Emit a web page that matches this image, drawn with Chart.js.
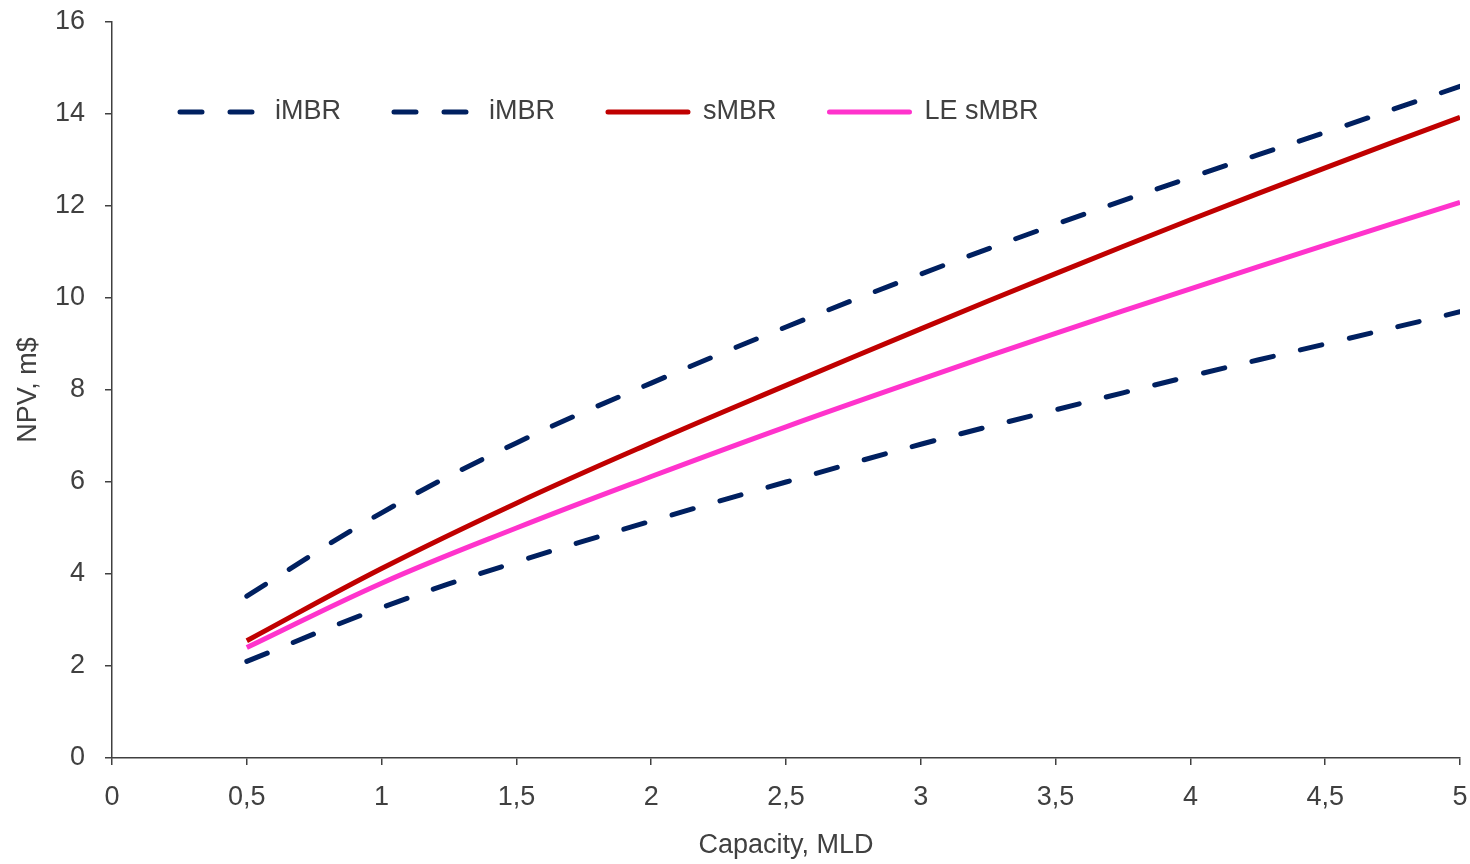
<!DOCTYPE html>
<html>
<head>
<meta charset="utf-8">
<script src="https://cdn.jsdelivr.net/npm/chart.js@4/dist/chart.umd.min.js"></script>
<style>
  html, body { margin: 0; padding: 0; background: #fff; }
  #wrap { width: 1470px; height: 864px; }
</style>
</head>
<body>
<div id="wrap"><canvas id="npv"></canvas></div>
<script>
// Capacity (MLD) and NPV (m$)
const capacity = [0.5, 1, 1.5, 2, 2.5, 3, 3.5, 4, 4.5, 5];
const imbrHigh = [3.52, 5.33, 6.85, 8.15, 9.37, 10.52, 11.6, 12.62, 13.6, 14.6];
const imbrLow  = [2.1, 3.27, 4.26, 5.15, 6.0, 6.82, 7.57, 8.3, 9.0, 9.7];
const smbr     = [2.55, 4.12, 5.54, 6.85, 8.1, 9.33, 10.53, 11.7, 12.83, 13.93];
const leSmbr   = [2.4, 3.8, 5.0, 6.12, 7.2, 8.23, 9.23, 10.2, 11.15, 12.08];
const seriesLabels = ['iMBR', 'iMBR', 'sMBR', 'LE sMBR'];

const TEXT = '#404040';
const FONT = 'Liberation Sans, Arial, sans-serif';
const NAVY = '#002060';
const DASH = [22, 28];

const toPoints = ys => capacity.map((x, i) => ({ x: x, y: ys[i] }));

// Legend drawn inside the plot area, in one row near the top
const insideLegend = {
  id: 'insideLegend',
  afterDatasetsDraw(chart) {
    const ctx = chart.ctx;
    const area = chart.chartArea;
    const y = area.top + 90;
    let x = area.left + 66;
    ctx.save();
    ctx.font = '27px ' + FONT;
    ctx.textBaseline = 'middle';
    ctx.textAlign = 'left';
    chart.data.datasets.forEach(ds => {
      ctx.strokeStyle = ds.borderColor;
      ctx.lineWidth = ds.borderWidth;
      ctx.lineCap = 'round';
      ctx.setLineDash(ds.borderDash || []);
      ctx.beginPath();
      ctx.moveTo(x + 2, y);
      ctx.lineTo(x + 82, y);
      ctx.stroke();
      ctx.setLineDash([]);
      ctx.fillStyle = TEXT;
      const tx = x + 97;
      ctx.fillText(ds.label, tx, y);
      x = tx + ctx.measureText(ds.label).width + 51;
    });
    ctx.restore();
  }
};

const lineStyle = (label, data, color, dashed) => ({
  label: label,
  data: toPoints(data),
  borderColor: color,
  backgroundColor: color,
  borderWidth: 5,
  borderDash: dashed ? DASH : [],
  borderCapStyle: dashed ? 'round' : 'butt',
  pointRadius: 0,
  tension: 0.4,
  fill: false
});

new Chart(document.getElementById('npv'), {
  type: 'line',
  data: {
    datasets: [
      lineStyle(seriesLabels[0], imbrHigh, NAVY, true),
      lineStyle(seriesLabels[1], imbrLow, NAVY, true),
      lineStyle(seriesLabels[2], smbr, '#C00000', false),
      lineStyle(seriesLabels[3], leSmbr, '#FF33CC', false)
    ]
  },
  options: {
    responsive: true,
    maintainAspectRatio: false,
    animation: false,
    layout: { padding: { top: 22, right: 10, left: 0, bottom: 0 } },
    plugins: {
      legend: { display: false },
      tooltip: { enabled: false }
    },
    scales: {
      x: {
        type: 'linear',
        min: 0,
        max: 5,
        afterFit: s => { s.height = 106; s.paddingRight = 0; s.paddingLeft = 0; },
        border: { color: TEXT, width: 1.5 },
        grid: { drawOnChartArea: false, drawTicks: true, tickLength: 7, color: TEXT, lineWidth: 1.5 },
        ticks: {
          stepSize: 0.5,
          padding: 16,
          color: TEXT,
          font: { family: FONT, size: 27 },
          maxRotation: 0,
          callback: v => String(v).replace('.', ',')
        },
        title: {
          display: true,
          text: 'Capacity, MLD',
          color: TEXT,
          font: { family: FONT, size: 27 },
          padding: { top: 0, bottom: 2 }
        }
      },
      y: {
        min: 0,
        max: 16,
        afterFit: s => { s.width = 112; s.paddingTop = 0; s.paddingBottom = 0; },
        border: { color: TEXT, width: 1.5 },
        grid: { drawOnChartArea: false, drawTicks: true, tickLength: 7, color: TEXT, lineWidth: 1.5 },
        ticks: {
          stepSize: 2,
          padding: 20,
          color: TEXT,
          font: { family: FONT, size: 27 }
        },
        title: {
          display: true,
          text: 'NPV, m$',
          color: TEXT,
          font: { family: FONT, size: 27 },
          padding: { top: 12, bottom: 0 }
        }
      }
    }
  },
  plugins: [insideLegend]
});
</script>
</body>
</html>
